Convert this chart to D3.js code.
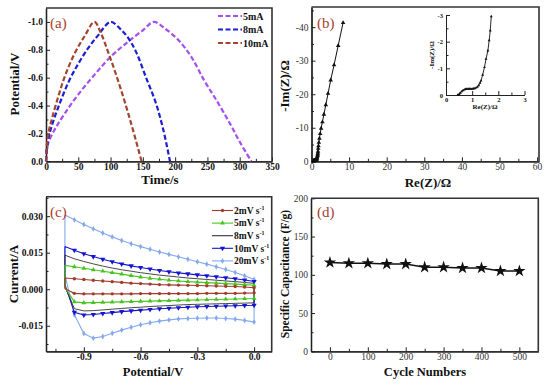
<!DOCTYPE html>
<html>
<head>
<meta charset="utf-8">
<script src="https://cdn.jsdelivr.net/npm/d3@7"></script>
<style>
  body { margin: 0; background: #fff; }
  svg { display: block; }
  text { font-family: "Liberation Serif", "Times New Roman", serif; }
</style>
</head>
<body>
<svg id="chart" width="550" height="385"></svg>
<script>
// ---------- data ----------

// (a) charge / discharge curves : [time s, potential V]
const gcd5 = [[0,0],[2,-0.1],[5,-0.15],[15,-0.24],[30,-0.35],[50,-0.48],[75,-0.62],[100,-0.75],[125,-0.85],[150,-0.94],[167,-1.0],
  [185,-0.95],[205,-0.87],[225,-0.75],[245,-0.58],[265,-0.43],[285,-0.27],[300,-0.14],[318,0]];
const gcd8 = [[0,0],[2,-0.12],[5,-0.19],[10,-0.27],[20,-0.4],[35,-0.57],[50,-0.7],[65,-0.81],[80,-0.9],[100,-1.0],
  [115,-0.95],[128,-0.88],[140,-0.78],[155,-0.6],[170,-0.42],[182,-0.22],[192,0]];
const gcd10 = [[0,0],[2,-0.15],[5,-0.23],[10,-0.32],[20,-0.48],[30,-0.62],[45,-0.78],[60,-0.9],[75,-1.0],
  [85,-0.92],[95,-0.8],[105,-0.67],[115,-0.53],[125,-0.38],[135,-0.22],[148,0]];
const gcdNames = ["5mA", "8mA", "10mA"];
const gcdColors = ["#a44ff0", "#1d1dd4", "#a3442c"];

// (b) Nyquist plot : [Re(Z), Im(Z)]
const eisLow = [[0.45,0],[0.5,-0.03],[0.55,-0.08],[0.6,-0.13],[0.65,-0.17],[0.7,-0.2],[0.75,-0.22],[0.8,-0.23],[0.85,-0.23],
  [0.9,-0.23],[0.95,-0.23],[1.0,-0.23],[1.05,-0.24],[1.1,-0.25],[1.15,-0.27],[1.2,-0.3],[1.25,-0.36],[1.3,-0.45],[1.34,-0.54],
  [1.4,-0.75],[1.47,-1.04],[1.53,-1.35],[1.6,-1.66],[1.65,-2.05],[1.69,-2.41],[1.73,-2.95]];
const eisHigh = [[1.78,-3.8],[1.85,-4.6],[1.95,-5.6],[2.1,-6.8],[2.3,-8.2],[2.55,-9.8],[2.9,-11.7],[3.3,-14.0],[3.8,-16.8],
  [4.4,-20.2],[5.1,-24.2],[6.0,-28.7],[7.1,-34.5],[8.4,-41.3]];

// (c) cyclic voltammetry : potential grid and current branches
const cvV = [-1.0,-0.95,-0.9,-0.85,-0.8,-0.75,-0.7,-0.65,-0.6,-0.55,-0.5,-0.45,-0.4,-0.35,-0.3,-0.25,-0.2,-0.15,-0.1,-0.05,0.0];
const cv2Up   = [0.0046,0.0043,0.0040,0.0037,0.0034,0.0031,0.0028,0.0025,0.0023,0.0021,0.0019,0.0018,0.0017,0.0016,0.0015,0.0014,0.0013,0.0012,0.0011,0.0009,0.0006];
const cv2Low  = [0.0002,-0.0017,-0.0019,-0.0019,-0.0019,-0.0019,-0.0019,-0.0019,-0.0018,-0.0018,-0.0018,-0.0018,-0.0018,-0.0018,-0.0018,-0.0017,-0.0017,-0.0017,-0.0017,-0.0016,-0.0015];
const cv5Up   = [0.0098,0.0092,0.0086,0.0080,0.0074,0.0068,0.0062,0.0056,0.0050,0.0045,0.0041,0.0037,0.0034,0.0031,0.0029,0.0027,0.0025,0.0023,0.0021,0.0019,0.0016];
const cv5Low  = [0.0008,-0.0052,-0.0056,-0.0055,-0.0054,-0.0053,-0.0052,-0.0051,-0.0050,-0.0049,-0.0048,-0.0047,-0.0046,-0.0045,-0.0044,-0.0043,-0.0042,-0.0041,-0.0040,-0.0039,-0.0038];
const cv8Up   = [0.0140,0.0125,0.0114,0.0104,0.0095,0.0087,0.0080,0.0074,0.0068,0.0063,0.0058,0.0054,0.0050,0.0046,0.0043,0.0040,0.0037,0.0034,0.0031,0.0028,0.0024];
const cv8Low  = [0.0010,-0.0080,-0.0089,-0.0088,-0.0085,-0.0082,-0.0079,-0.0076,-0.0074,-0.0071,-0.0069,-0.0067,-0.0065,-0.0063,-0.0062,-0.0061,-0.0060,-0.0059,-0.0058,-0.0057,-0.0056];
const cv10Up  = [0.0175,0.0160,0.0146,0.0134,0.0123,0.0113,0.0104,0.0096,0.0089,0.0083,0.0077,0.0072,0.0067,0.0063,0.0059,0.0055,0.0051,0.0047,0.0043,0.0038,0.0032];
const cv10Low = [0.0020,-0.0095,-0.0106,-0.0104,-0.0100,-0.0096,-0.0092,-0.0089,-0.0086,-0.0083,-0.0080,-0.0078,-0.0076,-0.0074,-0.0072,-0.0071,-0.0070,-0.0069,-0.0068,-0.0067,-0.0066];
const cv20Up  = [0.0305,0.0285,0.0266,0.0248,0.0231,0.0215,0.0200,0.0187,0.0175,0.0164,0.0153,0.0143,0.0133,0.0123,0.0113,0.0103,0.0092,0.0081,0.0069,0.0055,0.0040];
const cv20Low = [0.0060,-0.0105,-0.0182,-0.0201,-0.0194,-0.0181,-0.0168,-0.0156,-0.0146,-0.0138,-0.0131,-0.0126,-0.0122,-0.0120,-0.0119,-0.0118,-0.0118,-0.0120,-0.0123,-0.0128,-0.0135];
const cvNames = ["2mV s", "5mV s", "8mV s", "10mV s", "20mV s"];
const cvColors = ["#a23b2b", "#47c41f", "#333333", "#1515d0", "#84a9ef"];

// (d) cycling stability
const cycles = [0,50,100,150,200,250,300,350,400,450,500];
const capacitance = [116,115,115,114,114,110,110,109,109,105,105];

// ---------- drawing ----------
const svg = d3.select("#chart");
const fontA = 9.5;

// draws a boxed axis pair with inward ticks
function drawFrame(g, x, y, o) {
  const xa = d3.axisBottom(x).tickValues(o.xt).tickSize(-4).tickSizeOuter(0).tickPadding(2).tickFormat(o.xf);
  const ya = d3.axisLeft(y).tickValues(o.yt).tickSize(-4).tickSizeOuter(0).tickPadding(3).tickFormat(o.yf);
  const y0 = y.range()[0], y1 = y.range()[1], x0 = x.range()[0], x1 = x.range()[1];

  g.append("g").attr("transform", `translate(0,${y0})`)
    .call(d3.axisBottom(x).tickValues(o.xm).tickSize(-2.5).tickSizeOuter(0).tickFormat(""));
  g.append("g").attr("transform", `translate(${x0},0)`)
    .call(d3.axisLeft(y).tickValues(o.ym).tickSize(-2.5).tickSizeOuter(0).tickFormat(""));
  const gx = g.append("g").attr("transform", `translate(0,${y0})`).call(xa);
  const gy = g.append("g").attr("transform", `translate(${x0},0)`).call(ya);

  g.selectAll(".domain").attr("stroke", "#222").attr("stroke-width", 1.3);
  g.selectAll(".tick line").attr("stroke", "#222").attr("stroke-width", 1);
  [gx, gy].forEach(a => a.selectAll("text")
    .style("font-family", '"Liberation Serif", serif')
    .style("font-size", (o.fs || fontA) + "px")
    .style("font-weight", o.bold ? "bold" : "normal")
    .attr("fill", o.bold ? "#111" : "#333"));

  if (o.box) {
    g.append("path")
      .attr("d", `M${x0},${y1}H${x1}V${y0}`)
      .attr("fill", "none").attr("stroke", "#333").attr("stroke-width", 1.6);
  }
}

function title(g, txt, x, y, size, rot) {
  const t = g.append("text").text(txt)
    .attr("font-size", size).attr("font-weight", "bold").attr("fill", "#111")
    .attr("text-anchor", "middle");
  if (rot) t.attr("transform", `translate(${x},${y}) rotate(-90)`);
  else t.attr("x", x).attr("y", y);
  return t;
}

function panelTag(g, txt, x, y) {
  g.append("text").text(txt).attr("x", x).attr("y", y)
    .attr("font-size", 15).attr("fill", "#a8402c");
}

const fix1 = d => d.toFixed(1);
const fix3 = d => d.toFixed(3);
const plain = d => String(d);

// ===== (a) =====
const gA = svg.append("g");
const xA = d3.scaleLinear().domain([0, 350]).range([46, 272]);
const yA = d3.scaleLinear().domain([0, -1.1]).range([161.3, 8]);
drawFrame(gA, xA, yA, {
  xt: d3.range(0, 351, 50), xm: d3.range(25, 350, 50), xf: plain,
  yt: [0, -0.2, -0.4, -0.6, -0.8, -1.0], ym: [-0.1, -0.3, -0.5, -0.7, -0.9], yf: fix1,
  bold: true, box: true
});
const lineA2 = d3.line().x(d => xA(d[0])).y(d => yA(d[1])).curve(d3.curveCatmullRom.alpha(0.5));
[gcd5, gcd8, gcd10].forEach((s, i) => {
  gA.append("path").attr("d", lineA2(s))
    .attr("fill", "none").attr("stroke", gcdColors[i])
    .attr("stroke-width", 2.2).attr("stroke-dasharray", "5,2.5");
});
gcdNames.forEach((n, i) => {
  const ly = 16 + i * 13.5;
  gA.append("line").attr("x1", 218).attr("x2", 242).attr("y1", ly).attr("y2", ly)
    .attr("stroke", gcdColors[i]).attr("stroke-width", 2.2).attr("stroke-dasharray", "5,2.5");
  gA.append("text").text(n).attr("x", 243).attr("y", ly + 3.5)
    .attr("font-size", 10).attr("font-weight", "bold").attr("fill", "#111");
});
panelTag(gA, "(a)", 50, 28);
title(gA, "Potential/V", 19, 84, 13, true);
title(gA, "Time/s", 160, 184, 13);

// ===== (b) =====
const gB = svg.append("g");
const xB = d3.scaleLinear().domain([0, 60.5]).range([311.5, 539]);
const yB = d3.scaleLinear().domain([0, -46]).range([161.3, 7]);
drawFrame(gB, xB, yB, {
  xt: d3.range(0, 61, 10), xm: d3.range(5, 60, 10), xf: plain,
  yt: [0, -10, -20, -30, -40], ym: [-5, -15, -25, -35, -45], yf: plain,
  bold: false, box: true
});
const eisAll = eisLow.concat(eisHigh);
gB.append("path").attr("d", d3.line().x(d => xB(d[0])).y(d => yB(d[1]))(eisAll))
  .attr("fill", "none").attr("stroke", "#111").attr("stroke-width", 1);
gB.selectAll(".mk").data(eisAll).join("path")
  .attr("transform", d => `translate(${xB(d[0])},${yB(d[1])})`)
  .attr("d", d3.symbol(d3.symbolTriangle, 9)).attr("fill", "#111");
panelTag(gB, "(b)", 317, 28);
title(gB, "-Im(Z)/Ω", 289, 86, 13, true);
title(gB, "Re(Z)/Ω", 428, 187, 13);

// inset
const gI = svg.append("g");
const xI = d3.scaleLinear().domain([0, 3]).range([446, 524.5]);
const yI = d3.scaleLinear().domain([0, -3]).range([95, 15]);
drawFrame(gI, xI, yI, {
  xt: [0, 1, 2, 3], xm: [0.5, 1.5, 2.5], xf: plain,
  yt: [0, -1, -2, -3], ym: [-0.5, -1.5, -2.5], yf: plain,
  bold: true, box: false, fs: 6.5
});
gI.selectAll(".domain").attr("stroke-width", 1);
gI.append("path").attr("d", d3.line().x(d => xI(d[0])).y(d => yI(d[1]))(eisLow))
  .attr("fill", "none").attr("stroke", "#111").attr("stroke-width", 0.9);
gI.selectAll(".mk").data(eisLow).join("path")
  .attr("transform", d => `translate(${xI(d[0])},${yI(d[1])})`)
  .attr("d", d3.symbol(d3.symbolTriangle, 3.5)).attr("fill", "#111");
title(gI, "-Im(Z)/Ω", 434, 55, 7, true);
title(gI, "Re(Z)/Ω", 485, 109, 7);

// ===== (c) =====
const gC = svg.append("g");
const xC = d3.scaleLinear().domain([-1.1, 0.093]).range([46, 271.7]);
const yC = d3.scaleLinear().domain([-0.0255, 0.038]).range([351.3, 196.7]);
drawFrame(gC, xC, yC, {
  xt: [-0.9, -0.6, -0.3, 0.0], xm: [-1.05, -0.75, -0.45, -0.15], xf: fix1,
  yt: [-0.015, 0, 0.015, 0.03], ym: [-0.0225, -0.0075, 0.0075, 0.0225, 0.0375], yf: fix3,
  bold: true, box: true
});
const cvSeries = [[cv2Up, cv2Low], [cv5Up, cv5Low], [cv8Up, cv8Low], [cv10Up, cv10Low], [cv20Up, cv20Low]];
const lineC = d3.line().x(d => xC(d[0])).y(d => yC(d[1]));
const markers = [
  d3.symbol(d3.symbolCircle, 9),
  d3.symbol(d3.symbolTriangle, 10),
  null,
  d3.symbol(d3.symbolTriangle, 12),
  d3.symbol(d3.symbolDiamond, 10)
];
// draw largest loop first
[4, 3, 2, 1, 0].forEach(i => {
  const up = cvV.map((v, j) => [v, cvSeries[i][0][j]]);
  const low = cvV.map((v, j) => [v, cvSeries[i][1][j]]).reverse();
  const loop = up.concat(low);
  loop.push(up[0]);
  gC.append("path").attr("d", lineC(loop))
    .attr("fill", "none").attr("stroke", cvColors[i]).attr("stroke-width", i == 2 ? 0.9 : 1.1);
  if (markers[i]) {
    gC.append("g").selectAll("path").data(up.slice(1).concat(low.slice(0, -1))).join("path")
      .attr("transform", d => `translate(${xC(d[0])},${yC(d[1])})` + (i == 3 ? " rotate(180)" : ""))
      .attr("d", markers[i]).attr("fill", cvColors[i]);
  }
});
cvNames.forEach((n, i) => {
  const ly = 210.5 + i * 12.6;
  gC.append("line").attr("x1", 212).attr("x2", 233).attr("y1", ly).attr("y2", ly)
    .attr("stroke", cvColors[i]).attr("stroke-width", 1.1);
  if (markers[i]) {
    gC.append("path").attr("transform", `translate(222.5,${ly})` + (i == 3 ? " rotate(180)" : ""))
      .attr("d", markers[i]).attr("fill", cvColors[i]);
  }
  const t = gC.append("text").attr("x", 234).attr("y", ly + 3.3)
    .attr("font-size", 9.5).attr("font-weight", "bold").attr("fill", "#111").text(n);
  t.append("tspan").attr("dy", -4).attr("font-size", 6).text("-1");
});
panelTag(gC, "(c)", 50, 217);
title(gC, "Current/A", 18, 274, 13, true);
title(gC, "Potential/V", 153, 376, 12.5);

// ===== (d) =====
const gD = svg.append("g");
const xD = d3.scaleLinear().domain([-50, 550]).range([311, 538.3]);
const yD = d3.scaleLinear().domain([0, 200]).range([351.3, 198.3]);
drawFrame(gD, xD, yD, {
  xt: d3.range(0, 501, 100), xm: d3.range(50, 550, 100), xf: plain,
  yt: d3.range(0, 201, 50), ym: d3.range(25, 200, 50), yf: plain,
  bold: false, box: true
});
const capPts = cycles.map((c, i) => [c, capacitance[i]]);
gD.append("path").attr("d", d3.line().x(d => xD(d[0])).y(d => yD(d[1]))(capPts))
  .attr("fill", "none").attr("stroke", "#111").attr("stroke-width", 1.5);
gD.selectAll(".star").data(capPts).join("path")
  .attr("transform", d => `translate(${xD(d[0])},${yD(d[1])})`)
  .attr("d", d3.symbol(d3.symbolStar, 48)).attr("fill", "#111");
panelTag(gD, "(d)", 317, 217);
title(gD, "Specific Capacitance (F/g)", 289, 274, 11.5, true);
title(gD, "Cycle Numbers", 425, 376, 12.5);
</script>
</body>
</html>
